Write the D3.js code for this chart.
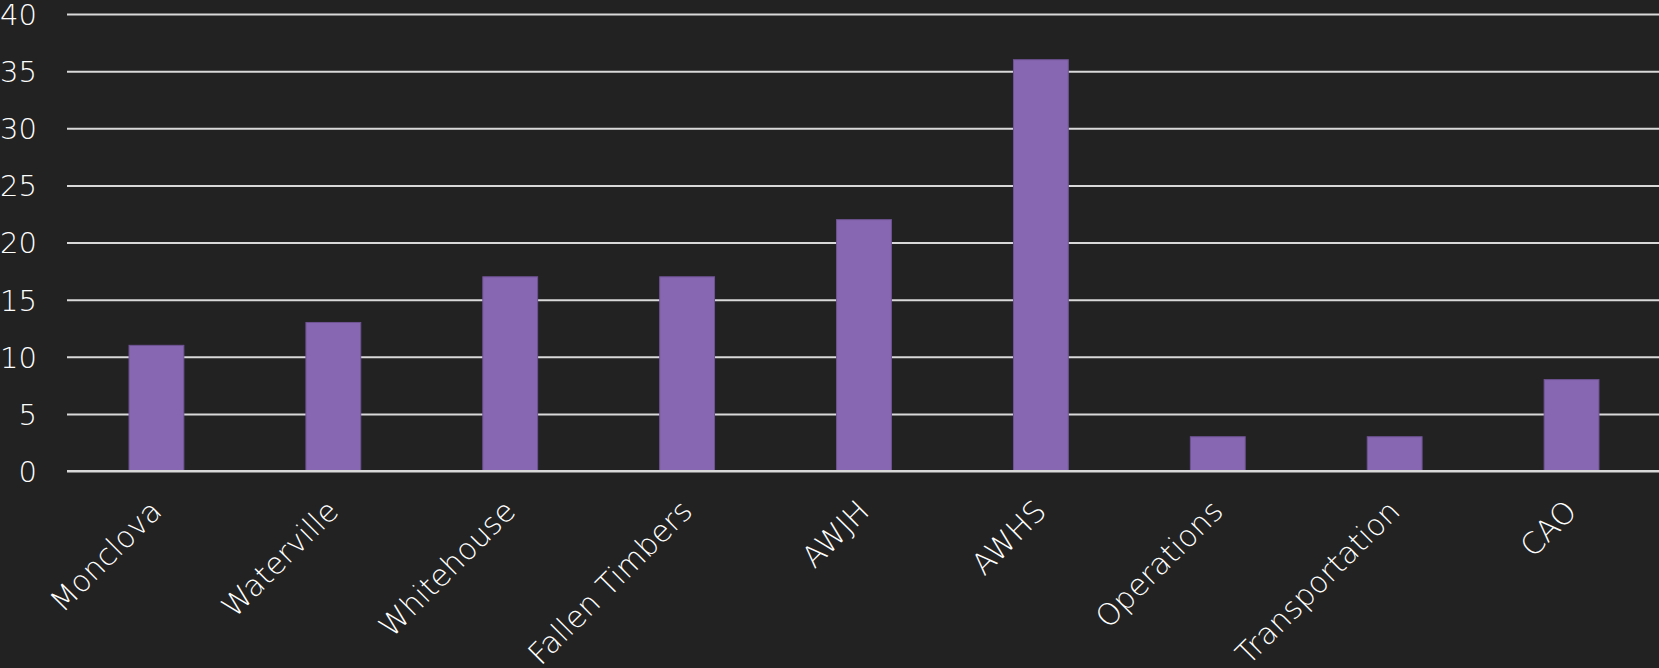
<!DOCTYPE html>
<html><head><meta charset="utf-8">
<script src="https://cdn.jsdelivr.net/npm/d3@7"></script>
<style>
html,body{margin:0;padding:0;background:#222222;overflow:hidden;}
svg{display:block;}
text{font-family:"DejaVu Sans",sans-serif;font-weight:200;fill:#ffffff;}
</style></head>
<body>
<svg id="c" width="1659" height="668"></svg>
<script>
const categories = ["Monclova","Waterville","Whitehouse","Fallen Timbers","AWJH","AWHS","Operations","Transportation","CAO"];
const values = [11,13,17,17,22,36,3,3,8];
const yTicks = [0,5,10,15,20,25,30,35,40];

const W = 1659, H = 668;
const m = {left:67, right:0, top:14, bottom:197};
const svg = d3.select("#c");
svg.append("rect").attr("width",W).attr("height",H).attr("fill","#222222");

const x = d3.scaleBand().domain(categories).range([m.left, W - m.right]).paddingInner(0.69).paddingOuter(0.345);
const y = d3.scaleLinear().domain([0,40]).range([H - m.bottom, m.top]);

// gridlines
const yAxis = d3.axisLeft(y).tickValues(yTicks).tickSize(-(W - m.left - m.right)).tickPadding(30).tickFormat(d3.format("d"));
const gy = svg.append("g").attr("transform",`translate(${m.left},0)`).call(yAxis);
gy.select(".domain").remove();
gy.selectAll(".tick line").attr("stroke","#d9d9d9").attr("stroke-width",2);
gy.selectAll(".tick text").attr("font-size",29).attr("dy","0.36em").attr("fill","#ffffff").attr("font-family","DejaVu Sans").attr("font-weight",200);

// bars
svg.append("g").selectAll("rect").data(values).join("rect")
  .attr("x",(d,i)=>x(categories[i]) + 1)
  .attr("y",d=>y(d))
  .attr("width",x.bandwidth())
  .attr("height",d=>y(0)-y(d))
  .attr("fill","#8767B1")
  .attr("stroke","#6f5394").attr("stroke-width",1);

// baseline on top of bars
svg.append("line").attr("x1",m.left).attr("x2",W).attr("y1",y(0)).attr("y2",y(0)).attr("stroke","#d9d9d9").attr("stroke-width",2);

// x labels
const xAxis = d3.axisBottom(x).tickSize(0).tickPadding(0);
const gx = svg.append("g").attr("transform",`translate(0,${y(0)})`).call(xAxis);
gx.select(".domain").remove();
gx.selectAll(".tick text")
  .attr("font-size",30).attr("fill","#ffffff").attr("font-family","DejaVu Sans").attr("font-weight",200)
  .attr("text-anchor","end").attr("dy",null)
  .attr("transform","translate(8,42) rotate(-45)");
</script>
</body></html>
